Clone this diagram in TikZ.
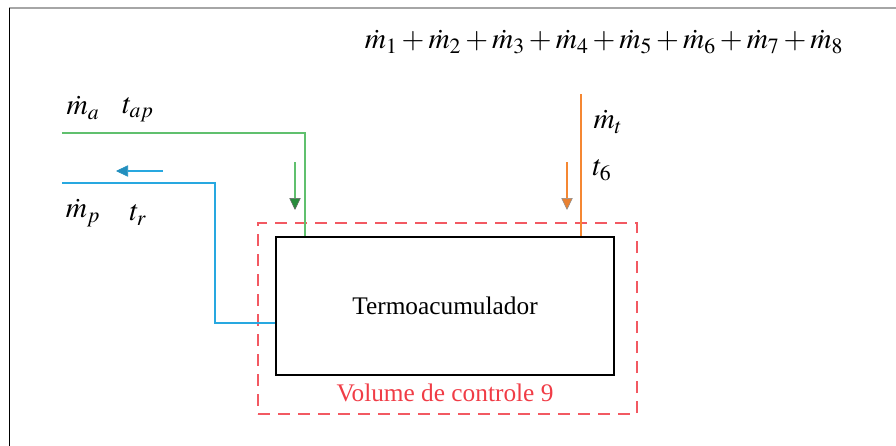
\documentclass[tikz,border=0pt]{standalone}
\usepackage{mathptmx}
\usepackage{fontspec}
\setmainfont{Liberation Serif}
\usetikzlibrary{arrows.meta}
\definecolor{verde}{RGB}{96,192,110}
\definecolor{verdeesc}{RGB}{40,140,60}
\definecolor{azul}{RGB}{40,168,224}
\definecolor{laranja}{RGB}{245,135,50}
\definecolor{vermelho}{RGB}{240,60,70}
\begin{document}
\begin{tikzpicture}[x=0.75pt, y=-0.75pt,
    every node/.style={font=\fontsize{19}{22}\selectfont},
    simbolo/.style={font=\fontsize{22}{26}\selectfont},
    tubo/.style={line width=1.2pt},
    seta/.style={line width=1.2pt, -{Triangle[width=8.5pt, length=9pt, line width=0.4pt, #1]}}]
    \useasboundingbox (0,0) rectangle (896,446);

    % Moldura
    \draw[gray!70, line width=1.5pt] (9,8) -- (896,8);
    \draw[black, line width=0.6pt] (9,8) -- (9,446);

    % Volume de controle e termoacumulador
    \node[draw=vermelho!85, dash pattern=on 9pt off 6pt, line width=1.5pt, minimum width=284.25pt, minimum height=143.25pt] (vc) at (447.5,318.5) {};
    \node[draw, line width=1.5pt, minimum width=253.5pt, minimum height=103.5pt] (tank) at (445,306) {Termoacumulador};
    \node[text=vermelho] (vclabel) at (445,393) {Volume de controle 9};

    % Tubagens
    \coordinate (ga) at (62,133);
    \coordinate (pa) at (62,183);
    \coordinate (pcanto) at (215,183);
    \draw[tubo, verde] (ga) -| ([xshift=22.5pt]tank.north west);
    \draw[tubo, azul] ([yshift=-12.75pt]tank.west) -| (pcanto) -- (pa);
    \draw[tubo, laranja] ([xshift=-25.5pt]tank.north east) -- ++(0,-142) coordinate (oa);

    % Sentido do escoamento
    \coordinate (s1a) at (163,171); \coordinate (s1b) at (116,171);
    \coordinate (s2a) at (295,162); \coordinate (s2b) at (295,210);
    \coordinate (s3a) at (567,162); \coordinate (s3b) at (567,210);
    \draw[seta={color=azul!85!black, fill=azul!85!black}, azul] (s1a) -- (s1b);
    \draw[seta={color=black!60, fill=verdeesc}, verde] (s2a) -- (s2b);
    \draw[seta={color=black!45, fill=laranja!95!black}, laranja] (s3a) -- (s3b);

    % Legendas
    \node[simbolo] (ma) at (83,108) {$\dot{m}_a$};
    \node[simbolo] (tap) at (138,110) {$t_{ap}$};
    \node[simbolo] (mp) at (83,213) {$\dot{m}_p$};
    \node[simbolo] (tr) at (138,215) {$t_r$};
    \node[simbolo] (mt) at (608,122) {$\dot{m}_t$};
    \node[simbolo] (t6) at (602,170) {$t_6$};
    \node[simbolo] (soma) at (604,42) {$\dot{m}_1+\dot{m}_2+\dot{m}_3+\dot{m}_4+\dot{m}_5+\dot{m}_6+\dot{m}_7+\dot{m}_8$};
\end{tikzpicture}
\end{document}
